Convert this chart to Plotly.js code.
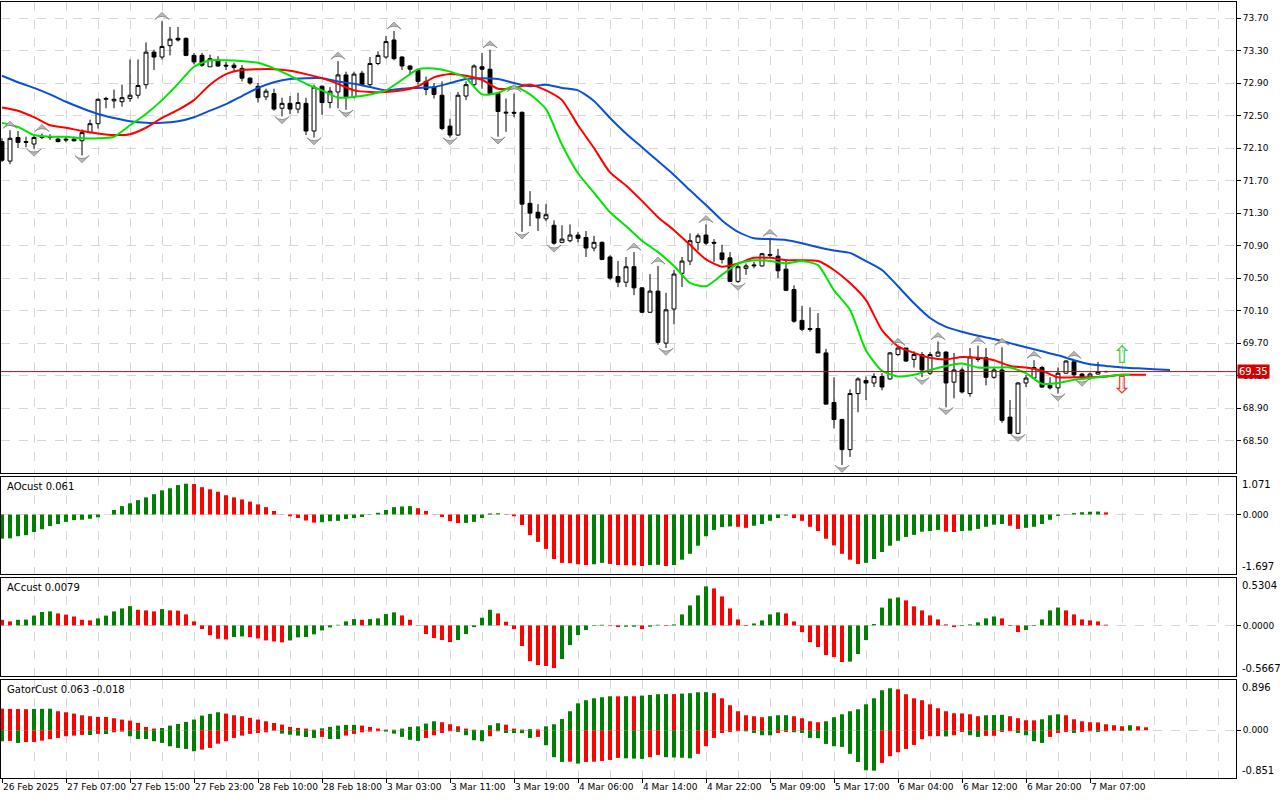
<!DOCTYPE html>
<html>
<head>
<meta charset="utf-8">
<script src="https://cdn.plot.ly/plotly-3.0.1.min.js"></script>
<style>
  html, body { margin: 0; padding: 0; background: #fff; }
  #chart { width: 1280px; height: 800px; }
</style>
</head>
<body>
<div id="chart"></div>
<script>
// H1 bars, 26 Feb 2025 .. 7 Mar 2025
const tickLabels = ['26 Feb 2025', '27 Feb 07:00', '27 Feb 15:00', '27 Feb 23:00', '28 Feb 10:00', '28 Feb 18:00',
  '3 Mar 03:00', '3 Mar 11:00', '3 Mar 19:00', '4 Mar 06:00', '4 Mar 14:00', '4 Mar 22:00',
  '5 Mar 09:00', '5 Mar 17:00', '6 Mar 04:00', '6 Mar 12:00', '6 Mar 20:00', '7 Mar 07:00'];
const barsPerLabel = 8;

const open = [72.18,71.94,72.23,72.18,72.15,72.23,72.23,72.21,72.21,72.21,
  72.19,72.29,72.40,72.70,72.68,72.67,72.71,72.75,72.88,73.28,
  73.22,73.36,73.45,73.45,73.24,73.24,73.10,73.18,73.12,73.12,
  73.08,72.96,72.86,72.73,72.77,72.59,72.65,72.58,72.65,72.31,
  72.86,72.66,72.79,73.00,72.73,73.02,72.88,73.14,73.22,73.43,
  73.22,73.11,73.06,72.92,72.85,72.75,72.37,72.26,72.74,72.88,
  73.10,73.07,72.77,72.53,72.54,72.54,71.42,71.31,71.23,71.15,
  70.94,70.96,71.03,71.00,70.87,70.94,70.76,70.52,70.45,70.64,
  70.38,70.08,70.34,69.70,70.12,70.56,70.71,70.94,71.03,70.94,
  70.81,70.75,70.46,70.62,70.65,70.65,70.78,70.77,70.61,70.36,
  69.98,69.88,69.88,69.58,68.97,68.76,68.39,69.08,69.24,69.21,
  69.29,69.26,69.56,69.64,69.50,69.56,69.33,69.54,69.59,69.22,
  69.37,69.08,69.52,69.52,69.28,69.37,68.79,68.59,69.21,69.27,
  69.40,69.18,69.15,69.33,69.47,69.32,69.28,69.32,69.35];
const high = [72.22,72.32,72.31,72.24,72.26,72.28,72.27,72.23,72.24,72.24,
  72.33,72.45,72.71,72.73,72.82,72.88,73.19,73.19,73.40,73.31,
  73.66,73.59,73.59,73.46,73.27,73.27,73.25,73.23,73.16,73.15,
  73.12,72.97,72.90,72.83,72.83,72.72,72.74,72.78,72.72,72.88,
  72.87,72.85,73.17,73.04,73.04,73.05,73.22,73.29,73.48,73.54,
  73.23,73.12,73.07,72.98,72.90,72.92,72.46,72.79,72.92,73.13,
  73.27,73.31,72.79,72.71,72.77,72.55,71.57,71.41,71.41,71.21,
  71.15,71.16,71.07,71.08,71.02,70.95,70.78,70.71,70.76,70.82,
  70.39,70.55,70.65,70.32,70.60,70.76,71.05,71.05,71.16,70.98,
  70.91,70.82,70.66,70.68,70.70,70.81,70.99,70.86,70.73,70.41,
  70.16,70.14,70.07,69.63,69.28,68.77,69.13,69.28,69.29,69.33,
  69.33,69.59,69.65,69.63,69.60,69.59,69.59,69.72,69.60,69.58,
  69.40,69.64,69.67,69.64,69.40,69.65,69.00,69.22,69.31,69.49,
  69.42,69.28,69.40,69.49,69.49,69.33,69.34,69.47,69.36];
const low = [71.93,71.90,72.10,72.11,72.09,72.21,72.20,72.17,72.17,72.18,
  72.01,72.28,72.34,72.59,72.59,72.61,72.67,72.71,72.83,73.06,
  73.19,73.24,73.41,73.23,73.13,73.10,73.10,73.10,73.06,73.05,
  72.92,72.88,72.66,72.69,72.56,72.49,72.52,72.53,72.26,72.23,
  72.51,72.59,72.59,72.57,72.71,72.86,72.85,73.12,73.20,73.18,
  73.06,73.00,72.88,72.75,72.71,72.32,72.23,72.25,72.69,72.86,
  72.83,72.75,72.24,72.30,72.48,71.07,71.14,71.08,71.20,70.91,
  70.93,70.94,70.94,70.76,70.83,70.72,70.48,70.39,70.39,70.29,
  70.07,70.07,69.68,69.64,69.93,70.39,70.66,70.84,70.91,70.70,
  70.68,70.45,70.44,70.54,70.62,70.64,70.76,70.50,70.34,69.95,
  69.85,69.84,69.58,68.94,68.65,68.20,68.30,68.85,69.00,69.16,
  69.12,69.25,69.54,69.47,69.40,69.28,69.31,69.53,68.91,69.02,
  69.08,69.04,69.47,69.18,69.26,68.72,68.59,68.58,69.16,69.26,
  69.15,69.13,69.08,69.33,69.28,69.26,69.25,69.31,69.34];
const close = [71.95,72.22,72.17,72.17,72.23,72.24,72.24,72.18,72.20,72.19,
  72.29,72.40,72.70,72.71,72.70,72.72,72.75,72.87,73.28,73.22,
  73.35,73.44,73.43,73.24,73.16,73.12,73.20,73.11,73.11,73.09,
  72.96,72.90,72.72,72.80,72.58,72.65,72.58,72.66,72.31,72.85,
  72.66,72.80,73.00,72.73,73.01,72.88,73.14,73.24,73.41,73.20,
  73.11,73.07,72.92,72.82,72.76,72.34,72.26,72.75,72.88,73.11,
  73.07,72.77,72.55,72.54,72.53,71.41,71.30,71.24,71.28,70.93,
  70.98,71.03,70.99,70.87,70.94,70.73,70.50,70.45,70.64,70.38,
  70.08,70.34,69.71,70.11,70.55,70.71,70.96,71.02,70.93,70.93,
  70.73,70.46,70.64,70.65,70.66,70.80,70.79,70.59,70.35,69.97,
  69.87,69.87,69.58,68.95,68.76,68.39,69.08,69.26,69.21,69.29,
  69.16,69.58,69.64,69.48,69.56,69.37,69.56,69.59,69.21,69.37,
  69.10,69.53,69.50,69.28,69.37,68.75,68.59,69.21,69.27,69.40,
  69.16,69.15,69.33,69.48,69.31,69.28,69.32,69.35,69.35];

// Alligator lines, read every 2 bars (jaw shift 8, teeth shift 5, lips shift 3)
const jaw = [72.99,72.91,72.84,72.76,72.67,72.59,72.52,72.47,72.43,72.41,72.41,72.43,72.48,72.56,72.64,72.74,
  72.84,72.91,72.95,72.96,72.96,72.92,72.89,72.85,72.81,72.83,72.84,72.85,72.90,72.95,72.96,72.95,72.90,72.86,
  72.88,72.84,72.81,72.68,72.47,72.28,72.11,71.94,71.77,71.58,71.40,71.21,71.07,70.99,70.98,70.97,70.93,70.88,
  70.84,70.81,70.71,70.60,70.40,70.19,70.01,69.90,69.84,69.79,69.75,69.70,69.65,69.60,69.55,69.49,69.44,69.42,
  69.40,69.39,69.38,69.37];
const teeth = [72.60,72.56,72.48,72.38,72.35,72.31,72.28,72.26,72.27,72.35,72.47,72.57,72.69,72.88,73.01,73.06,
  73.07,73.07,73.05,73.01,72.96,72.89,72.81,72.79,72.79,72.81,72.86,72.97,73.01,72.99,72.94,72.83,72.84,72.88,
  72.81,72.69,72.38,72.10,71.80,71.64,71.45,71.25,71.09,70.91,70.73,70.64,70.68,70.75,70.75,70.72,70.72,70.71,
  70.60,70.44,70.23,69.86,69.66,69.58,69.52,69.50,69.53,69.52,69.49,69.42,69.40,69.36,69.28,69.28,69.28,69.29,
  69.31,69.31,69.31];
const lips = [72.41,72.36,72.26,72.24,72.24,72.22,72.22,72.24,72.38,72.52,72.69,72.89,73.10,73.18,73.18,73.17,
  73.15,73.08,72.99,72.89,72.81,72.72,72.73,72.76,72.81,72.94,73.07,73.08,73.04,72.96,72.76,72.78,72.86,72.76,
  72.58,72.14,71.79,71.55,71.31,71.14,70.96,70.82,70.65,70.44,70.40,70.54,70.68,70.72,70.71,70.68,70.71,70.66,
  70.35,70.11,69.61,69.36,69.29,69.31,69.37,69.42,69.45,69.40,69.40,69.40,69.33,69.20,69.21,69.25,69.27,69.29,
  69.31,69.31];
const lineStep = 2;
const teethLastBar = 143;
const lipsLastBar = 141;

const fractalUpBars = [1, 5, 20, 42, 49, 61, 64, 79, 82, 88, 96, 112, 117, 122, 125, 129, 134];
const fractalDownBars = [4, 10, 35, 39, 43, 56, 62, 65, 69, 83, 92, 105, 115, 118, 127, 132, 135];
const signalBar = 140;

const ao = [-0.69,-0.68,-0.62,-0.59,-0.50,-0.42,-0.33,-0.27,-0.21,-0.16,
  -0.15,-0.12,-0.08,0.005,0.13,0.24,0.32,0.41,0.49,0.58,
  0.69,0.75,0.84,0.88,0.87,0.78,0.72,0.65,0.55,0.49,
  0.43,0.37,0.29,0.21,0.10,-0.01,-0.05,-0.10,-0.17,-0.23,
  -0.22,-0.19,-0.18,-0.13,-0.10,-0.07,-0.01,0.05,0.13,0.21,
  0.23,0.24,0.18,0.10,-0.005,-0.07,-0.19,-0.245,-0.24,-0.21,
  -0.10,0.03,0.035,0.01,-0.05,-0.30,-0.59,-0.78,-0.98,-1.27,
  -1.38,-1.39,-1.42,-1.44,-1.42,-1.38,-1.41,-1.44,-1.445,-1.45,
  -1.47,-1.44,-1.435,-1.47,-1.44,-1.29,-1.12,-0.89,-0.62,-0.44,
  -0.36,-0.34,-0.35,-0.38,-0.32,-0.27,-0.18,-0.10,-0.03,-0.10,
  -0.18,-0.35,-0.47,-0.69,-0.88,-1.12,-1.29,-1.41,-1.38,-1.27,
  -1.07,-0.89,-0.75,-0.64,-0.58,-0.49,-0.47,-0.44,-0.49,-0.50,
  -0.47,-0.46,-0.41,-0.35,-0.29,-0.27,-0.32,-0.41,-0.38,-0.35,
  -0.27,-0.15,-0.04,0.005,0.04,0.065,0.08,0.085,0.061];
const aoRange = [-1.697, 1.071];

const ac = [0.063,0.045,0.063,0.065,0.11,0.15,0.157,0.134,0.12,0.10,
  0.063,0.056,0.078,0.11,0.157,0.19,0.216,0.175,0.168,0.157,
  0.183,0.168,0.165,0.123,0.045,-0.04,-0.11,-0.15,-0.157,-0.13,
  -0.123,-0.131,-0.146,-0.168,-0.18,-0.19,-0.168,-0.134,-0.13,-0.10,
  -0.056,-0.022,0.007,0.045,0.07,0.063,0.071,0.078,0.127,0.146,
  0.112,0.063,0.003,-0.097,-0.142,-0.164,-0.187,-0.164,-0.097,-0.019,
  0.086,0.175,0.134,0.041,-0.041,-0.231,-0.40,-0.444,-0.455,-0.478,
  -0.377,-0.22,-0.108,-0.052,-0.007,0.007,-0.007,-0.019,-0.015,-0.014,
  -0.041,-0.015,0.007,-0.007,0.011,0.123,0.224,0.336,0.437,0.414,
  0.325,0.19,0.067,-0.007,0.022,0.056,0.123,0.146,0.134,0.045,
  -0.075,-0.187,-0.243,-0.332,-0.354,-0.41,-0.405,-0.32,-0.164,0.015,
  0.20,0.30,0.313,0.28,0.213,0.168,0.112,0.067,0.011,-0.019,
  -0.007,0.011,0.034,0.078,0.10,0.078,-0.007,-0.075,-0.052,-0.007,
  0.067,0.168,0.20,0.168,0.123,0.067,0.056,0.045,0.0079];
const acRange = [-0.5667, 0.5304];

const gatorUpper = [0.386,0.38,0.378,0.375,0.38,0.382,0.384,0.339,0.321,0.297,
  0.267,0.25,0.238,0.237,0.214,0.19,0.172,0.131,0.059,0.03,
  0.04,0.083,0.113,0.149,0.19,0.261,0.291,0.321,0.297,0.267,
  0.25,0.22,0.19,0.16,0.13,0.10,0.06,0.04,0.03,0.01,
  0.035,0.06,0.083,0.095,0.096,0.083,0.059,0.03,0.012,0.01,
  0.03,0.06,0.07,0.119,0.16,0.143,0.107,0.071,0.03,0.01,
  0.005,0.089,0.125,0.10,0.03,0.012,0.02,0.015,0.07,0.107,
  0.20,0.339,0.48,0.535,0.57,0.588,0.606,0.605,0.607,0.606,
  0.618,0.63,0.642,0.645,0.644,0.654,0.66,0.677,0.68,0.66,
  0.57,0.446,0.339,0.267,0.25,0.232,0.25,0.267,0.268,0.25,
  0.214,0.16,0.143,0.16,0.232,0.285,0.339,0.374,0.463,0.57,
  0.713,0.749,0.73,0.642,0.57,0.535,0.463,0.392,0.339,0.303,
  0.30,0.285,0.25,0.267,0.27,0.275,0.25,0.214,0.178,0.177,
  0.196,0.267,0.285,0.267,0.196,0.16,0.143,0.14,0.107,0.089,
  0.071,0.089,0.071,0.053];
const gatorLower = [0.196,0.19,0.226,0.21,0.208,0.185,0.16,0.137,0.107,0.095,
  0.083,0.085,0.065,0.067,0.036,0.024,0.107,0.155,0.156,0.196,
  0.226,0.285,0.315,0.333,0.375,0.345,0.315,0.24,0.196,0.137,
  0.095,0.065,0.048,0.036,0.006,0.06,0.08,0.095,0.12,0.137,
  0.119,0.155,0.156,0.095,0.065,0.036,0.024,0.018,0.024,0.06,
  0.119,0.17,0.19,0.137,0.089,0.048,0.018,0.03,0.089,0.178,
  0.196,0.107,0.018,0.048,0.05,0.052,0.137,0.119,0.267,0.48,
  0.565,0.56,0.594,0.565,0.56,0.547,0.529,0.493,0.50,0.505,
  0.511,0.48,0.44,0.48,0.485,0.49,0.50,0.42,0.285,0.137,
  0.048,0.03,0.018,0.02,0.048,0.089,0.09,0.048,0.03,0.035,
  0.048,0.137,0.14,0.244,0.285,0.297,0.42,0.565,0.713,0.72,
  0.582,0.463,0.392,0.333,0.261,0.16,0.107,0.105,0.11,0.089,
  0.03,0.089,0.119,0.10,0.099,0.03,0.018,0.048,0.089,0.196,
  0.226,0.119,0.048,0.03,0.048,0.03,0.018,0.03,0.018,0.008,
  0.015,0.01];
const gatorRange = [-0.851, 0.896];

const GREEN = '#008000';
const RED = '#ff0000';
const GRID = '#d6d6d6';
const FONT = 'DejaVu Sans';

function indexBars(n) {
  return Array.from({ length: n }, (_, i) => i);
}

function stepBars(n, step) {
  return Array.from({ length: n }, (_, i) => i * step);
}

function trendColors(values, first) {
  return values.map((v, i) => (i === 0 ? first : (v > values[i - 1] ? GREEN : RED)));
}

const bars = indexBars(close.length);
const lastClose = close[close.length - 1];
const tickBars = tickLabels.map((_, i) => i * barsPerLabel);

const jawX = stepBars(jaw.length, lineStep);
const teethX = stepBars(teeth.length - 1, lineStep).concat([teethLastBar]);
const lipsX = stepBars(lips.length - 1, lineStep).concat([lipsLastBar]);

function xAxis(anchor, showLabels) {
  return {
    anchor,
    range: [-0.125, 154.25],
    tickmode: 'array',
    tickvals: tickBars,
    ticktext: tickLabels,
    tickangle: 0,
    showticklabels: showLabels,
    ticks: showLabels ? 'outside' : '',
    ticklen: 4,
    tickcolor: '#000',
    ticklabelposition: 'outside right',
    showgrid: true,
    gridcolor: GRID,
    griddash: 'dash',
    minor: { tickmode: 'linear', tick0: 0, dtick: 4, showgrid: true, gridcolor: GRID, griddash: 'dash', ticks: '' },
    showline: true,
    linecolor: '#000',
    linewidth: 1,
    mirror: true,
    zeroline: false,
    fixedrange: true,
  };
}

function indicatorAxis(domain, range, zeroText) {
  return {
    domain,
    range,
    side: 'right',
    tickmode: 'array',
    tickvals: [0],
    ticktext: [zeroText],
    ticks: 'outside',
    ticklen: 4,
    tickcolor: '#000',
    showgrid: true,
    gridcolor: GRID,
    griddash: 'dash',
    zeroline: false,
    showline: true,
    linecolor: '#000',
    mirror: true,
    fixedrange: true,
  };
}

function edgeLabels(yref, range, digits) {
  return [
    { xref: 'paper', x: 1, xanchor: 'left', xshift: 4, yref, y: range[1], yanchor: 'top',
      text: range[1].toFixed(digits), showarrow: false, font: { family: FONT, size: 10, color: '#000' } },
    { xref: 'paper', x: 1, xanchor: 'left', xshift: 4, yref, y: range[0], yanchor: 'bottom',
      text: range[0].toFixed(digits), showarrow: false, font: { family: FONT, size: 10, color: '#000' } },
  ];
}

function panelTitle(yref, text) {
  return { xref: 'paper', x: 0, xanchor: 'left', xshift: 4, yref, y: 1, yanchor: 'top', yshift: -2,
    text, showarrow: false, font: { family: FONT, size: 10, color: '#000' } };
}

const fractalMarker = { symbol: 'arrow-wide', size: 10, color: '#b8b8b8', line: { color: '#777', width: 0.7 } };

const traces = [
  {
    type: 'candlestick',
    x: bars, open, high, low, close,
    increasing: { line: { color: '#000', width: 1 }, fillcolor: '#fff' },
    decreasing: { line: { color: '#000', width: 1 }, fillcolor: '#000' },
    whiskerwidth: 0,
    xaxis: 'x', yaxis: 'y',
  },
  { type: 'scatter', mode: 'lines', x: jawX, y: jaw, line: { color: '#0a50d6', width: 2, shape: 'spline', smoothing: 0.6 }, xaxis: 'x', yaxis: 'y' },
  { type: 'scatter', mode: 'lines', x: teethX, y: teeth, line: { color: '#ff0000', width: 2, shape: 'spline', smoothing: 0.6 }, xaxis: 'x', yaxis: 'y' },
  { type: 'scatter', mode: 'lines', x: lipsX, y: lips, line: { color: '#00e400', width: 2, shape: 'spline', smoothing: 0.6 }, xaxis: 'x', yaxis: 'y' },
  {
    type: 'scatter', mode: 'markers',
    x: fractalUpBars, y: fractalUpBars.map((b) => high[b] + 0.11),
    marker: Object.assign({ angle: 0 }, fractalMarker),
    xaxis: 'x', yaxis: 'y',
  },
  {
    type: 'scatter', mode: 'markers',
    x: fractalDownBars, y: fractalDownBars.map((b) => low[b] - 0.09),
    marker: Object.assign({ angle: 180 }, fractalMarker),
    xaxis: 'x', yaxis: 'y',
  },
  { type: 'bar', x: bars, y: ao, width: 0.5, marker: { color: trendColors(ao, GREEN) }, xaxis: 'x2', yaxis: 'y2' },
  { type: 'bar', x: bars, y: ac, width: 0.5, marker: { color: trendColors(ac, RED) }, xaxis: 'x3', yaxis: 'y3' },
  { type: 'bar', x: indexBars(gatorUpper.length), y: gatorUpper, width: 0.5, marker: { color: trendColors(gatorUpper, RED) }, xaxis: 'x4', yaxis: 'y4' },
  { type: 'bar', x: indexBars(gatorLower.length), y: gatorLower.map((v) => -v), width: 0.5, marker: { color: trendColors(gatorLower, GREEN) }, xaxis: 'x4', yaxis: 'y4' },
];

const layout = {
  width: 1280,
  height: 800,
  margin: { l: 1, r: 44, t: 2, b: 22 },
  paper_bgcolor: '#fff',
  plot_bgcolor: '#fff',
  font: { family: FONT, size: 9, color: '#000' },
  showlegend: false,
  hovermode: false,
  barmode: 'overlay',
  xaxis: Object.assign(xAxis('y', false), { rangeslider: { visible: false } }),
  xaxis2: Object.assign(xAxis('y2', false), { matches: 'x' }),
  xaxis3: Object.assign(xAxis('y3', false), { matches: 'x' }),
  xaxis4: Object.assign(xAxis('y4', true), { matches: 'x' }),
  yaxis: {
    domain: [0.3930, 1],
    range: [68.102, 73.897],
    side: 'right',
    tickmode: 'linear',
    tick0: 68.5,
    dtick: 0.4,
    tickformat: '.2f',
    ticks: 'outside',
    ticklen: 4,
    tickcolor: '#000',
    showgrid: true,
    gridcolor: GRID,
    griddash: 'dash',
    zeroline: false,
    showline: true,
    linecolor: '#000',
    mirror: true,
    fixedrange: true,
  },
  yaxis2: indicatorAxis([0.2629, 0.3879], aoRange, '0.000'),
  yaxis3: indicatorAxis([0.1314, 0.2577], acRange, '0.0000'),
  yaxis4: indicatorAxis([0, 0.1263], gatorRange, '0.000'),
  shapes: [
    { type: 'line', xref: 'x domain', x0: 0, x1: 1, yref: 'y', y0: lastClose, y1: lastClose,
      line: { color: '#9b1c1c', width: 1 } },
  ],
  annotations: [
    { xref: 'paper', x: 1, xanchor: 'left', xshift: 1, yref: 'y', y: lastClose, yanchor: 'middle',
      text: lastClose.toFixed(2), showarrow: false, bgcolor: '#d40000', borderpad: 1,
      font: { family: FONT, size: 10, color: '#fff' } },
    { xref: 'x', x: signalBar, yref: 'y', y: lastClose + 0.2, text: '⇧', showarrow: false,
      font: { family: FONT, size: 24, color: '#3ccf3c' } },
    { xref: 'x', x: signalBar, yref: 'y', y: lastClose - 0.17, text: '⇩', showarrow: false,
      font: { family: FONT, size: 24, color: '#f03030' } },
    panelTitle('y2 domain', 'AOcust 0.061'),
    panelTitle('y3 domain', 'ACcust 0.0079'),
    panelTitle('y4 domain', 'GatorCust 0.063 -0.018'),
    ...edgeLabels('y2', aoRange, 3),
    ...edgeLabels('y3', acRange, 4),
    ...edgeLabels('y4', gatorRange, 3),
  ],
};

Plotly.newPlot('chart', traces, layout, { staticPlot: true, displayModeBar: false });
</script>
</body>
</html>
